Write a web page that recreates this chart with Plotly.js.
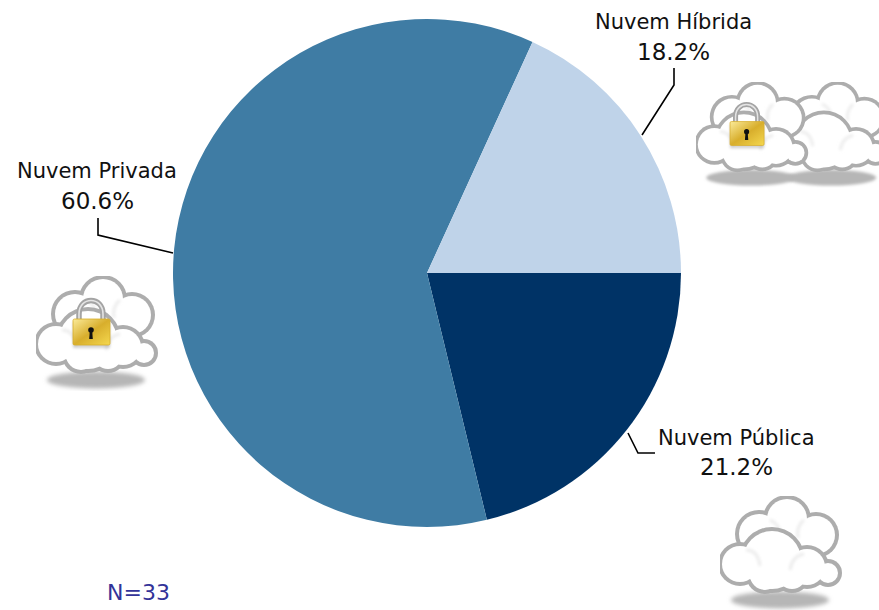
<!DOCTYPE html>
<html><head><meta charset="utf-8">
<script src="https://cdn.plot.ly/plotly-3.0.1.min.js"></script>
<style>html,body{margin:0;padding:0;background:#fff}#c{width:879px;height:610px}</style>
</head><body><div id="c"></div>
<script>
const categories = ["Nuvem Pública", "Nuvem Privada", "Nuvem Híbrida"];
const counts = [7, 20, 6];
const sliceColors = ["#003366", "#3F7CA4", "#BFD3E9"];
const sampleNote = "N=33";
const W = 879, H = 610;
const total = counts.reduce((a, b) => a + b, 0);
const pctText = counts.map(v => (100 * v / total).toFixed(1) + "%");

const labelFont = {family: "'DejaVu Sans', sans-serif", size: 21, color: "#111"};
const pctFont = {family: "'DejaVu Sans', sans-serif", size: 23, color: "#111"};
const labelCentres = [[736, 438, 467], [97, 171, 201], [673, 22, 52]];
const leaders = [
  "M628,433 L638,453 L655,453",
  "M98,218 L98,235 L173,253",
  "M674,68 L674,85 L642,135"
];
const px = x => x / W, py = y => 1 - y / H;

function cloudSvg(lock) {
  const back = [[67,23,20],[96,39,19],[39,38,20],[68,42,24]];
  const front = [[52,64,29],[20,68,18],[87,71,18],[45,79,15],[72,79,14]];
  const small = [[108,77,10]];
  const ring = (cs, w) => cs.map(c => `<circle cx="${c[0]}" cy="${c[1]}" r="${c[2]+w}" fill="#adadad"/>`).join("");
  const fillc = (cs) => cs.map(c => `<circle cx="${c[0]}" cy="${c[1]}" r="${c[2]}" fill="#fff"/>`).join("");
  const lockSvg = !lock ? "" :
    `<path d="M43,46 V38 C43,20 67,20 67,38 V46" fill="none" stroke="#a4a4a4" stroke-width="5.5"/>
     <path d="M43,46 V38 C43,20 67,20 67,38 V46" fill="none" stroke="#e4e4e4" stroke-width="1.6"/>
     <rect x="37" y="44" width="37" height="26" fill="#000" opacity=".18" transform="translate(0,2)" filter="url(#s)"/>
     <rect x="37" y="43" width="37" height="26" rx="1.5" fill="url(#g)" stroke="#d7ad2a" stroke-width=".8"/>
     <circle cx="55" cy="54" r="2.8" fill="#111"/><path d="M53.8,55 L53.2,63 H56.8 L56.2,55 Z" fill="#111"/>`;
  const svg = `<svg xmlns="http://www.w3.org/2000/svg" width="125" height="115" viewBox="0 0 125 115">
  <defs>
  <linearGradient id="g" x1="0" y1="0" x2="1" y2="1"><stop offset="0" stop-color="#fbeb9a"/><stop offset=".5" stop-color="#d8ae2c"/><stop offset="1" stop-color="#f5d84f"/></linearGradient>
  <filter id="b" x="-20%" y="-80%" width="140%" height="260%"><feGaussianBlur stdDeviation="2"/></filter>
  <filter id="s" x="-20%" y="-20%" width="140%" height="140%"><feGaussianBlur stdDeviation="1.6"/></filter>
  <filter id="t" x="-5%" y="-5%" width="110%" height="110%"><feGaussianBlur stdDeviation=".6"/></filter>
  </defs>
  <ellipse cx="60" cy="104" rx="49" ry="8.5" fill="#b6b6b6" filter="url(#b)"/>
  <g filter="url(#t)">
  ${ring(back,4)}${fillc(back)}
  <path d="M50,24 Q60,28 60,40 M84,24 Q76,30 78,42" fill="none" stroke="#ececec" stroke-width="3" filter="url(#s)"/>
  ${ring(front,4)}${ring(small,4)}${fillc(small)}${fillc(front)}
  <path d="M26,54 Q38,54 40,70 M84,58 Q72,60 70,74" fill="none" stroke="#ececec" stroke-width="3" filter="url(#s)"/>
  </g>
  ${lockSvg}</svg>`;
  return "data:image/svg+xml;charset=utf-8," + encodeURIComponent(svg);
}
const cloudImage = (lock, x, y, s) => ({
  source: cloudSvg(lock), xref: "paper", yref: "paper",
  x: px(x), y: py(y), sizex: 125 * s / W, sizey: 115 * s / H,
  xanchor: "left", yanchor: "top", sizing: "stretch", layer: "above"
});

const annotations = [];
categories.forEach((c, i) => {
  const [x, y1, y2] = labelCentres[i];
  annotations.push({text: c, x: px(x), y: py(y1), xref: "paper", yref: "paper", showarrow: false, xanchor: "center", yanchor: "middle", font: labelFont});
  annotations.push({text: pctText[i], x: px(x), y: py(y2), xref: "paper", yref: "paper", showarrow: false, xanchor: "center", yanchor: "middle", font: pctFont});
});
annotations.push({text: sampleNote, x: px(138.5), y: py(592), xref: "paper", yref: "paper", showarrow: false, xanchor: "center", yanchor: "middle",
  font: {family: "'DejaVu Sans', sans-serif", size: 22, color: "#333399"}});

const shapes = leaders.map(d => {
  const path = d.replace(/([\d.]+),([\d.]+)/g, (m, a, b) => px(+a).toFixed(5) + "," + py(+b).toFixed(5));
  return {type: "path", path, xref: "paper", yref: "paper", line: {color: "#000", width: 1.6}};
});

Plotly.newPlot("c", [{
  type: "pie", labels: categories, values: counts, sort: false,
  direction: "clockwise", rotation: 90, textinfo: "none", hole: 0,
  marker: {colors: sliceColors, line: {width: 0}},
  domain: {x: [173 / W, 681 / W], y: [1 - 527 / H, 1 - 19 / H]},
  showlegend: false
}], {
  width: W, height: H, margin: {l: 0, r: 0, t: 0, b: 0},
  paper_bgcolor: "#fff", showlegend: false,
  annotations, shapes,
  images: [cloudImage(false, 776, 82, 0.92), cloudImage(true, 696, 82, 0.92), cloudImage(true, 36, 276, 1), cloudImage(false, 720, 496, 1)]
}, {displayModeBar: false, staticPlot: true});
</script></body></html>
